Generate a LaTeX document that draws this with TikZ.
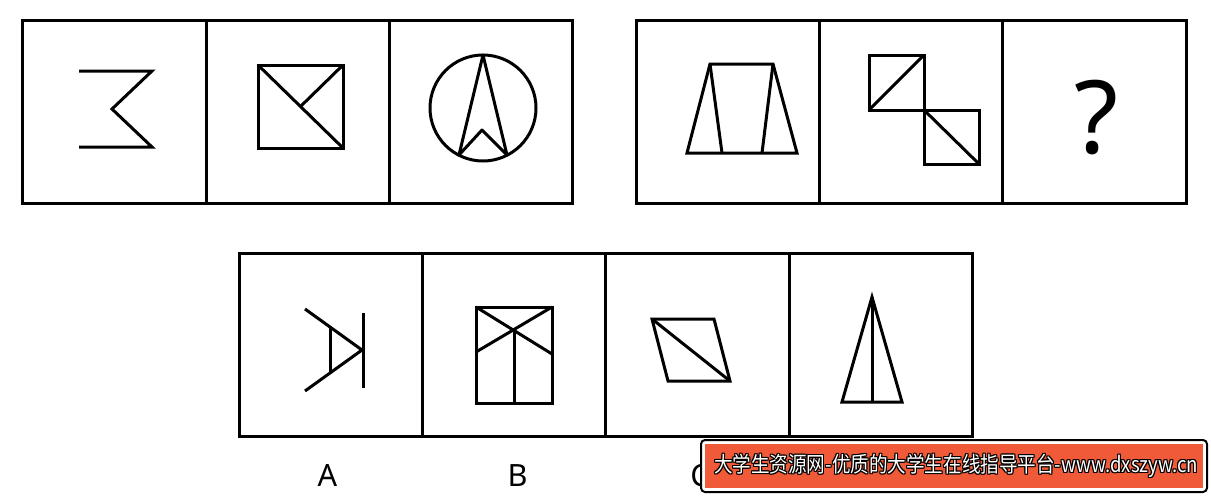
\documentclass[tikz,border=0pt]{standalone}
\usepackage{fontspec}
\setmainfont{Noto Sans}
\newfontfamily\cjkfont{Noto Sans CJK SC}
\newcommand{\wmtext}{\scalebox{0.855}[1.0]{\cjkfont\fontsize{16.3pt}{16.3pt}\selectfont 大学生资源网-优质的大学生在线指导平台-www.dxszyw.cn}}
\begin{document}
\begin{tikzpicture}[x=0.75pt,y=-0.75pt,
  frame/.style={line width=2.25pt},
  fig/.style={line width=2.25pt, line join=miter},
  lbl/.style={font=\fontsize{23pt}{23pt}\selectfont, anchor=base, inner sep=0pt},
  wmtxt/.style={anchor=center, inner sep=0pt}]
\fill[white] (0,0) rectangle (1211,496);
\useasboundingbox (0,0) rectangle (1211,496);

% ---- group 1 ----
\draw[frame] (22,20) rectangle (572,203);
\draw[frame] (206,20) -- (206,203);
\draw[frame] (389,20) -- (389,203);
\draw[fig] (79,71) -- (152,71) -- (112,109) -- (152,147) -- (79,147);
\draw[fig] (258,65) rectangle (343,148);
\draw[fig] (258,65) -- (343,148);
\draw[fig] (343,65) -- (300.5,106.5);
\draw[fig] (483,108) circle [radius=39.75pt];
\draw[fig, line join=round] (483,55) -- (459,155) -- (482,130) -- (507,155) -- cycle;

% ---- group 2 ----
\draw[frame] (636,20) rectangle (1186,203);
\draw[frame] (819,20) -- (819,203);
\draw[frame] (1002,20) -- (1002,203);
\draw[fig] (710,64) -- (773,64) -- (797,153) -- (687,153) -- cycle;
\draw[fig] (710,64) -- (722,153);
\draw[fig] (773,64) -- (762,153);
\draw[fig] (869,55) rectangle (924,110);
\draw[fig] (869,110) -- (924,55);
\draw[fig] (924,110) rectangle (979,164);
\draw[fig] (924,110) -- (979,164);
\node[anchor=base, inner sep=0pt, font=\fontsize{76pt}{76pt}\selectfont] (q) at (1096,153) {?};

% ---- group 3 ----
\draw[frame] (239,253) rectangle (972,436);
\draw[frame] (422,253) -- (422,436);
\draw[frame] (605,253) -- (605,436);
\draw[frame] (789,253) -- (789,436);
\draw[fig] (305,309) -- (362,350) -- (305,391);
\draw[fig] (363,313) -- (363,388);
\draw[fig] (330,327) -- (330,373);
\draw[fig] (476,307) rectangle (552,403);
\draw[fig] (476,307) -- (552,354);
\draw[fig] (552,307) -- (476,352);
\draw[fig] (514,330) -- (514,403);
\draw[fig] (652,319) -- (714,319) -- (730,381) -- (668,381) -- cycle;
\draw[fig] (652,319) -- (730,381);
\draw[fig] (872,297) -- (902,402) -- (842,402) -- cycle;
\draw[fig] (872,297) -- (872,402);

\node[lbl] (la) at (327.5,486) {A};
\node[lbl] (lb) at (517.5,486) {B};
\node[lbl] (lc) at (700,486) {C};

% ---- watermark ----
\draw[line width=1.5pt, fill=white, rounded corners=3pt] (701,440) rectangle (1207,492);
\fill[fill={rgb,255:red,240;green,90;blue,56}] (705,444) rectangle (1203,488);
\foreach \dx/\dy [count=\i] in {1/0,-1/0,0/1,0/-1,1/1,1/-1,-1/1,-1/-1}
  \node[wmtxt, text=black] (wms\i) at ({956+\dx},{466+\dy}) {\wmtext};
\node[wmtxt, text=white] (wm) at (956,466) {\wmtext};
\end{tikzpicture}
\end{document}
